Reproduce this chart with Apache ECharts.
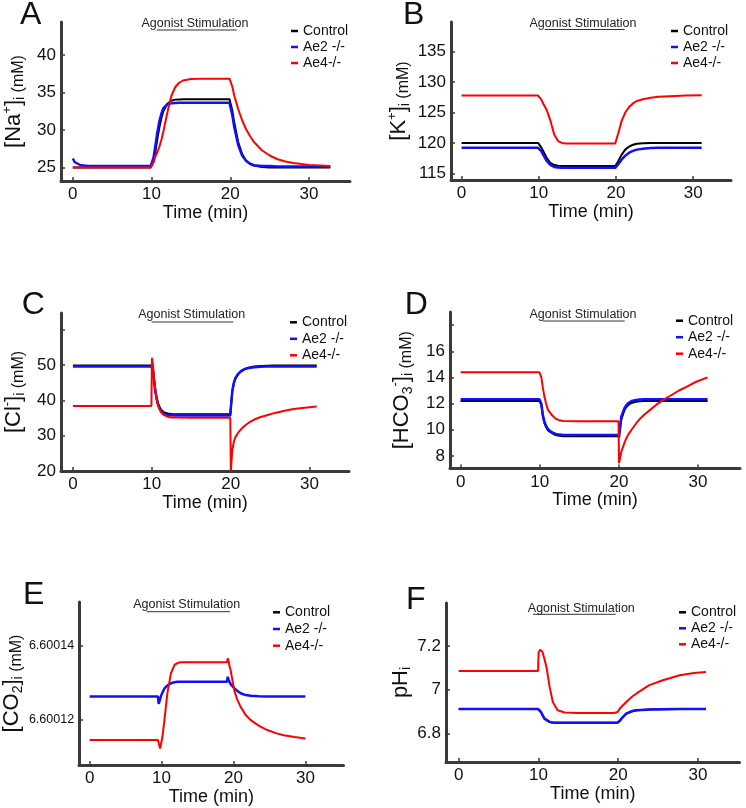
<!DOCTYPE html>
<html><head><meta charset="utf-8">
<script src="https://cdn.jsdelivr.net/npm/echarts@6/dist/echarts.min.js"></script>
<style>html,body{margin:0;padding:0;background:#fff}#c{width:746px;height:808px}</style>
</head><body><div id="c"></div>
<script>
// ---------------- DATA ----------------
const seriesNames = ['Control', 'Ae2 -/-', 'Ae4-/-'];
const panelLetters = ['A', 'B', 'C', 'D', 'E', 'F'];
const timeTicks = [0, 10, 20, 30];

// A: [Na+]i
const timeA = [0,0.25,0.5,1,2,5,9.9,10,10.25,10.5,10.75,11,11.25,11.5,12,12.5,13,13.5,14,15,17,19.9,20,20.25,20.5,21,21.5,22,22.5,23,24,25,26,27,28,30,32.7];
const naControl = [25,25,25,25,25,25,25,25,25.8,27.2,28.9,30.4,31.6,32.5,33.5,33.9,34.05,34.08,34.1,34.1,34.1,34.1,34.1,32.6,31.0,28.4,26.8,25.9,25.5,25.25,25.05,25.0,25,25,25,25,25];
const naAe2 = [26.2,25.7,25.45,25.3,25.2,25.2,25.2,25.2,26.3,28,29.8,31.2,32.2,32.9,33.4,33.55,33.6,33.62,33.62,33.62,33.62,33.62,33.6,32.0,30.4,28.0,26.6,25.9,25.5,25.3,25.2,25.2,25.15,25.15,25.15,25.15,25.15];
const naAe4 = [25,25,25,25,25,25,25,25,25.7,26.5,27.1,27.8,28.7,29.8,32.3,34.5,35.7,36.3,36.6,36.8,36.85,36.85,36.85,35.8,34.6,32.8,31.3,30.1,29.2,28.4,27.3,26.6,26.1,25.8,25.6,25.35,25.2];
const naTicks = [25, 30, 35, 40];

// B: [K+]i
const timeB = [0,5,9.9,10,10.3,10.6,11,11.5,12,12.5,13,13.5,14,15,17,19.9,20,20.3,20.7,21.2,21.7,22.2,22.7,23.5,24.5,25.5,27,29,31.1];
const kControl = [120,120,120,120,119.3,118.6,117.6,116.7,116.35,116.25,116.2,116.2,116.2,116.2,116.2,116.2,116.2,117,118,118.9,119.4,119.7,119.85,119.95,120,120,120,120,120];
const kAe2 = [119.2,119.2,119.2,119.2,118.7,118.0,117.1,116.4,116.05,115.95,115.9,115.9,115.9,115.9,115.9,115.9,115.9,116.5,117.2,117.9,118.4,118.7,118.9,119.05,119.15,119.2,119.2,119.2,119.2];
const kAe4 = [127.8,127.8,127.8,127.8,127.2,126.4,125.5,123.7,121.4,120.3,120.0,119.9,119.9,119.9,119.9,119.9,119.9,121.6,123.5,125.0,125.9,126.5,126.9,127.2,127.45,127.6,127.7,127.8,127.85];
const kTicks = [115, 120, 125, 130, 135];

// C: [Cl-]i
const timeC = [0,5,9.95,10,10.02,10.15,10.3,10.45,10.6,10.8,11,11.2,11.5,12,12.5,13,15,19.95,20,20.02,20.2,20.4,20.6,21,21.3,21.7,22.1,22.5,23,23.8,24.6,25.5,26.7,27.8,28.8,30.9];
const clControl = [49.9,49.9,49.9,49.9,49.7,48.6,45.5,42.9,41,39.2,38.1,37.3,36.7,36.3,36.15,36.1,36.1,36.1,36.1,38,42.5,44.8,46.2,47.6,48.2,48.8,49.2,49.45,49.6,49.75,49.85,49.9,49.9,49.9,49.9,49.9];
const clAe2 = [49.6,49.6,49.6,49.6,49.5,48.4,45.2,42.6,40.6,38.8,37.7,36.9,36.3,35.9,35.8,35.75,35.75,35.75,35.75,37.8,42.6,45.0,46.4,47.7,48.3,48.8,49.1,49.3,49.45,49.55,49.6,49.6,49.6,49.6,49.6,49.6];
const clAe4 = [38.4,38.4,38.4,38.4,52.1,50,46,43,40.5,38.5,37.4,36.6,35.9,35.4,35.2,35.15,35.1,35.1,35.1,20.1,25.9,28.3,29.6,31.0,31.8,32.7,33.4,34.0,34.6,35.3,35.8,36.4,37.0,37.5,37.8,38.3];
const clTicks = [20, 30, 40, 50, 60];
const clLabels = [20, 30, 40, 50];

// D: [HCO3-]i
const timeD = [0,5,9.95,10,10.2,10.4,10.6,10.8,11.05,11.5,11.7,12,12.5,13,15,19.95,20,20.02,20.3,20.7,20.9,21.2,21.6,22.2,22.6,23.2,23.9,24.7,25.5,26.5,27.6,28.6,29.7,31.2];
const hco3Control = [12.2,12.2,12.2,12.2,11.9,11.0,10.5,10.2,9.95,9.76,9.68,9.6,9.55,9.5,9.5,9.5,9.5,9.5,10.8,11.5,11.7,11.9,12.05,12.15,12.18,12.2,12.2,12.2,12.2,12.2,12.2,12.2,12.2,12.2];
const hco3Ae2 = [12.33,12.33,12.33,12.33,12.0,11.1,10.6,10.3,10.05,9.82,9.75,9.68,9.63,9.6,9.6,9.6,9.6,9.4,11.0,11.65,11.85,12.05,12.2,12.28,12.31,12.33,12.33,12.33,12.33,12.33,12.33,12.33,12.33,12.33];
const hco3Ae4 = [14.4,14.4,14.4,14.4,14.0,13.2,12.5,12.0,11.5,11.15,11.0,10.85,10.72,10.67,10.65,10.65,10.65,7.45,8.3,9.0,9.3,9.65,10.0,10.5,10.8,11.15,11.5,11.9,12.25,12.6,13.0,13.3,13.65,14.0];
const hco3Ticks = [8, 10, 12, 14, 16, 18];
const hco3Labels = [8, 10, 12, 14, 16];

// E: [CO2]i
const timeE = [0,5,9.5,9.6,9.8,9.9,10.1,10.4,10.8,11.3,11.8,12.2,12.7,15,19.1,19.2,19.3,19.45,19.6,20.1,20.5,21,21.7,22.4,23.5,24.7,26,27,28.5,30];
const co2Control = [];
const co2Ae2 = [6.6001262,6.6001262,6.6001262,6.6001242,6.6001255,6.6001262,6.6001272,6.6001284,6.6001292,6.6001298,6.6001301,6.6001302,6.6001302,6.6001302,6.6001302,6.6001316,6.6001308,6.6001302,6.6001296,6.6001285,6.6001278,6.6001271,6.6001266,6.6001264,6.6001263,6.6001262,6.6001262,6.6001262,6.6001262,6.6001262];
const co2Ae4 = [6.6001144,6.6001144,6.6001144,6.6001135,6.6001121,6.6001125,6.600115,6.6001198,6.600127,6.6001325,6.6001348,6.6001353,6.6001355,6.6001355,6.6001355,6.6001366,6.600136,6.6001345,6.6001334,6.600128,6.6001255,6.6001234,6.6001212,6.6001198,6.6001183,6.6001171,6.6001162,6.6001157,6.6001152,6.6001148];
const co2Ticks = [6.60012, 6.60014];

// F: pHi
const timeF = [0,5,9.95,10,10.02,10.2,10.3,10.5,10.75,11,11.4,11.8,12.4,13.3,15,19.5,19.9,20,20.2,20.4,21,21.8,22.3,23.5,23.9,25.6,27.7,29.5,31];
const phControl = [6.912,6.912,6.912,6.912,6.911,6.905,6.899,6.885,6.868,6.86,6.853,6.85,6.849,6.849,6.849,6.849,6.849,6.849,6.858,6.868,6.891,6.903,6.906,6.909,6.91,6.911,6.912,6.912,6.912];
const phAe2 = [6.912,6.912,6.912,6.912,6.911,6.905,6.899,6.885,6.868,6.86,6.853,6.85,6.849,6.849,6.849,6.849,6.849,6.849,6.858,6.868,6.891,6.903,6.906,6.909,6.91,6.911,6.912,6.912,6.912];
const phAe4 = [7.086,7.086,7.086,7.086,7.17,7.183,7.185,7.173,7.14,7.104,7.013,6.944,6.906,6.896,6.894,6.894,6.898,6.906,6.914,6.922,6.944,6.97,6.983,7.012,7.021,7.043,7.066,7.076,7.081];
const phTicks = [6.8, 7, 7.2];

// ---------------- LAYOUT / STYLE ----------------
const FONT = '"Liberation Sans", Arial, Helvetica, sans-serif';
const AX = '#3a3a3a';
const COLORS = ['#000000', '#1010ff', '#ff0000'];

const panels = [
  {grid:{left:59, top:22, width:291, height:159}, x:[-1.5,35.2], y:[23.2,44.4], t:timeA, vals:[naControl,naAe2,naAe4], ticks:naTicks, labels:naTicks,
   name:'{b|[Na}{sup|+}{b|]}{sub|i}{m| (mM)}', nameGap:34, xGap:18, lab:17,
   legend:{left:291, top:24, gap:2}, letter:[20,5], title:[195,24], ul:[156.7,236.7,30]},
  {grid:{left:451, top:22, width:280, height:158}, x:[-1.37,34.9], y:[113.9,139.9], t:timeB, vals:[kControl,kAe2,kAe4], ticks:kTicks, labels:kTicks,
   name:'{b|[K}{sup|+}{b|]}{sub|i}{m| (mM)}', nameGap:39, xGap:18, lab:17,
   legend:{left:671, top:24, gap:2}, letter:[403,5], title:[583,24], ul:[544.7,624.7,29.5]},
  {grid:{left:59, top:313, width:290, height:158}, x:[-1.51,35.0], y:[20,64.8], t:timeC, vals:[clControl,clAe2,clAe4], ticks:clTicks, labels:clLabels,
   name:'{b|[Cl}{sup|-}{b|]}{sub|i}{m| (mM)}', nameGap:34, xGap:15, lab:17,
   legend:{left:290, top:315.3, gap:2.5}, letter:[21.7,295], title:[191.7,315], ul:[151.7,233.3,322]},
  {grid:{left:450, top:312, width:290, height:156.5}, x:[-1.34,35.3], y:[7.04,19], t:timeD, vals:[hco3Control,hco3Ae2,hco3Ae4], ticks:hco3Ticks, labels:hco3Labels,
   name:'{b|[HCO}{sub|3}{sup|-}{b|]}{sub|i}{m| (mM)}', nameGap:35, xGap:16, lab:17,
   legend:{left:676, top:313.7, gap:2.5}, letter:[404.7,295], title:[583,315], ul:[543,624.7,321]},
  {grid:{left:78, top:602, width:265.5, height:163}, x:[-1.47,35.3], y:[6.6001076,6.6001519], t:timeE, vals:[co2Control,co2Ae2,co2Ae4], ticks:co2Ticks, labels:co2Ticks,
   name:'{b|[CO}{sub|2}{b|]}{sub|i}{m| (mM)}', nameGap:46, xGap:10, lab:12.5, fmt:v=>Number(v).toFixed(5),
   legend:{left:273, top:605.3, gap:2.7}, letter:[23,585], title:[186.7,605], ul:[146.7,230,611.7]},
  {grid:{left:446, top:603, width:293.5, height:159}, x:[-1.59,35.2], y:[6.67,7.396], t:timeF, vals:[phControl,phAe2,phAe4], ticks:phTicks, labels:phTicks,
   name:'{b|pH}{sub|i}', nameGap:20, xGap:19, lab:17,
   legend:{left:679, top:605.3, gap:2}, letter:[406,590], title:[581.3,609], ul:[533,615.7,614.3]}
];

const rich = {
  b:{fontSize:22, fontFamily:FONT, color:'#111', lineHeight:26},
  sup:{fontSize:13, fontFamily:FONT, color:'#111', verticalAlign:'top', lineHeight:13},
  sub:{fontSize:14, fontFamily:FONT, color:'#111', verticalAlign:'bottom', lineHeight:14},
  m:{fontSize:16, fontFamily:FONT, color:'#111', verticalAlign:'bottom', lineHeight:18}
};

const option = {
  animation:false,
  backgroundColor:'#fff',
  grid:[], xAxis:[], yAxis:[], series:[], legend:[], graphic:[]
};

panels.forEach((p, i) => {
  option.grid.push(Object.assign({containLabel:false}, p.grid));
  option.xAxis.push({
    type:'value', gridIndex:i, min:p.x[0], max:p.x[1],
    name:'Time (min)', nameLocation:'middle', nameGap:p.xGap,
    nameTextStyle:{fontSize:18, fontFamily:FONT, color:'#111'},
    axisLine:{onZero:false, lineStyle:{color:AX, width:3}},
    axisTick:{inside:true, length:4, lineStyle:{color:AX, width:1.5}, customValues:timeTicks},
    axisLabel:{fontSize:17, fontFamily:FONT, color:'#111', margin:5, customValues:timeTicks},
    splitLine:{show:false}
  });
  option.yAxis.push({
    type:'value', gridIndex:i, min:p.y[0], max:p.y[1],
    name:p.name, nameLocation:'middle', nameRotate:90, nameGap:p.nameGap,
    nameTextStyle:{rich:rich},
    axisLine:{onZero:false, lineStyle:{color:AX, width:3}},
    axisTick:{inside:true, length:4, lineStyle:{color:AX, width:1.5}, customValues:p.ticks},
    axisLabel:{fontSize:p.lab, fontFamily:FONT, color:'#111', margin:5, customValues:p.labels, formatter:p.fmt},
    splitLine:{show:false}
  });
  seriesNames.forEach((nm, k) => {
    option.series.push({
      type:'line', name:nm, xAxisIndex:i, yAxisIndex:i, showSymbol:false, symbol:'none',
      lineStyle:{color:COLORS[k], width:k===1?2.5:2}, itemStyle:{color:COLORS[k]},
      data:p.vals[k].map((v, j) => [p.t[j], v]), z:2+k
    });
  });
  option.legend.push({
    data:seriesNames, orient:'vertical', left:p.legend.left, top:p.legend.top, padding:0,
    itemGap:p.legend.gap, itemWidth:7, itemHeight:2.5, icon:'rect',
    textStyle:{fontSize:14, fontFamily:FONT, color:'#111', lineHeight:14}
  });
  option.graphic.push(
    {type:'text', x:p.letter[0], y:p.letter[1]-6, style:{text:panelLetters[i], font:'32px ' + FONT, fill:'#111', textAlign:'left', textVerticalAlign:'top'}},
    {type:'text', x:p.title[0], y:p.title[1], style:{text:'Agonist Stimulation', font:'12.5px ' + FONT, fill:'#222', textAlign:'center', textVerticalAlign:'middle'}},
    {type:'line', shape:{x1:p.ul[0], y1:p.ul[2], x2:p.ul[1], y2:p.ul[2]}, style:{stroke:'#333', lineWidth:1}}
  );
});

const chart = echarts.init(document.getElementById('c'), null, {renderer:'canvas'});
chart.setOption(option);
</script></body></html>
